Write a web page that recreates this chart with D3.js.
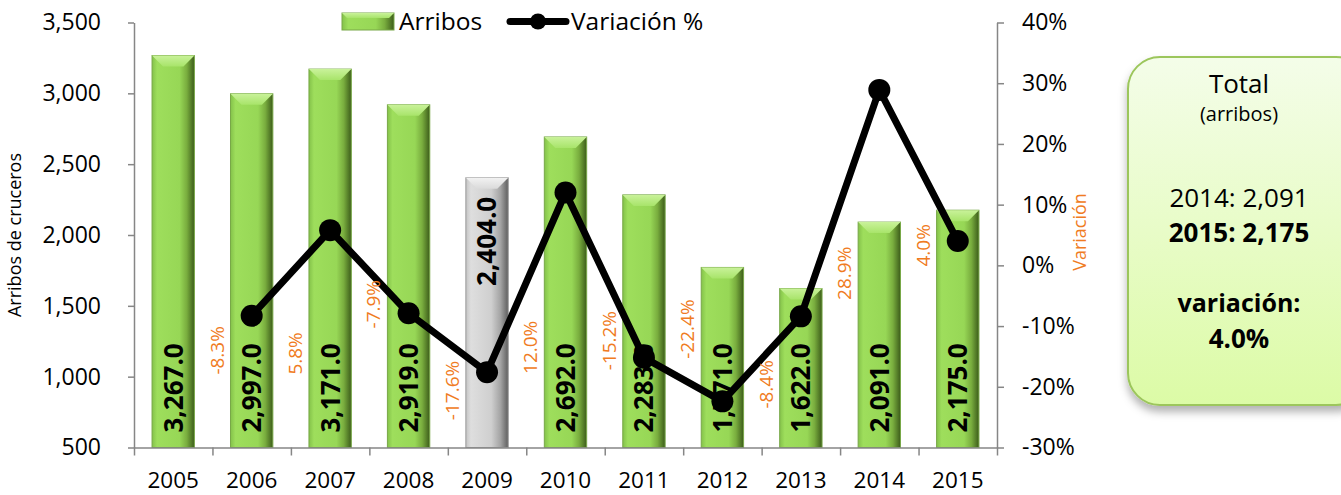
<!DOCTYPE html>
<html>
<head>
<meta charset="utf-8">
<script src="https://cdn.jsdelivr.net/npm/d3@7"></script>
<style>
  body { margin: 0; background: #fff; }
  text { font-family: "Open Sans", sans-serif; }
  .axis path, .axis line { stroke: #868686; stroke-width: 1.5; }
  .axis text { font-size: 23px; fill: #000; }
</style>
</head>
<body>
<div id="chart"></div>
<script>
// data
var years = ["2005","2006","2007","2008","2009","2010","2011","2012","2013","2014","2015"];
var arribos = [3267, 2997, 3171, 2919, 2404, 2692, 2283, 1771, 1622, 2091, 2175];
var variacion = [null, -8.3, 5.8, -7.9, -17.6, 12.0, -15.2, -22.4, -8.4, 28.9, 4.0];
// where the % labels sit, in right-axis units
var labelAt = [null, -14.0, -14.5, -6.4, -20.6, -13.5, -12.4, -10.5, -19.6, -1.3, 3.3];
var leftTicks = [500, 1000, 1500, 2000, 2500, 3000, 3500];
var rightTicks = [-30, -20, -10, 0, 10, 20, 30, 40];
var greyYear = "2009";

var width = 1341, height = 495;
var plot = { left: 134, right: 997, top: 22.5, bottom: 447.5 };

var svg = d3.select("#chart")
	.append("svg")
	.attr("width", width)
	.attr("height", height);

var defs = svg.append("defs");

function hGrad(id, stops) {
	var g = defs.append("linearGradient").attr("id", id)
		.attr("x1", "0").attr("x2", "1").attr("y1", "0").attr("y2", "0");
	stops.forEach(function(s){
		g.append("stop").attr("offset", s[0]).attr("stop-color", s[1]);
	});
}
function vGrad(id, stops) {
	var g = defs.append("linearGradient").attr("id", id)
		.attr("x1", "0").attr("x2", "0").attr("y1", "0").attr("y2", "1");
	stops.forEach(function(s){
		g.append("stop").attr("offset", s[0]).attr("stop-color", s[1]);
	});
}
hGrad("greenBar", [[0, "#84c24a"], [0.12, "#9ede5c"], [0.65, "#97d756"], [0.82, "#79ad3e"], [1, "#3c5c1a"]]);
hGrad("greyBar", [[0, "#c4c4c4"], [0.12, "#dedede"], [0.6, "#cfcfcf"], [0.82, "#a3a3a3"], [1, "#5e5e5e"]]);
vGrad("greenTop", [[0, "#c9f29a"], [1, "#a8e46a"]]);
vGrad("greyTop", [[0, "#f2f2f2"], [1, "#dadada"]]);
vGrad("boxFill", [[0, "#f4fde9"], [1, "#dcfba6"]]);

var shadow = defs.append("filter").attr("id", "shadow")
	.attr("x", "-20%").attr("y", "-20%").attr("width", "140%").attr("height", "140%");
shadow.append("feDropShadow").attr("dx", 0).attr("dy", 6).attr("stdDeviation", 4)
	.attr("flood-color", "#000").attr("flood-opacity", 0.3);

//scales
var x = d3.scaleBand()
	.domain(years)
	.range([plot.left, plot.right])
	.paddingInner(0.46)
	.paddingOuter(0.23);
var xEdge = d3.scaleLinear().domain([0, years.length]).range([plot.left, plot.right]);
var yLeft = d3.scaleLinear().domain([500, 3500]).range([plot.bottom, plot.top]);
var yRight = d3.scaleLinear().domain([-30, 40]).range([plot.bottom, plot.top]);

var bw = x.bandwidth();
function cx(d) { return x(d) + bw / 2; }
//excel style percent, plain hyphen for negatives
function pct(v) { return v.toFixed(1) + "%"; }

//bars with a bevelled top
var bars = svg.selectAll(".bar")
	.data(years)
	.enter().append("g")
	.attr("class", "bar");

bars.append("rect")
	.attr("x", function(d){ return x(d); })
	.attr("y", function(d, i){ return yLeft(arribos[i]); })
	.attr("width", bw)
	.attr("height", function(d, i){ return plot.bottom - yLeft(arribos[i]); })
	.attr("fill", function(d){ return d == greyYear ? "url(#greyBar)" : "url(#greenBar)"; })
	.attr("stroke", function(d){ return d == greyYear ? "#9a9a9a" : "#78a848"; })
	.attr("stroke-width", 1);

var bev = 11;
bars.append("path")
	.attr("d", function(d, i){
		var x0 = x(d), x1 = x(d) + bw, y0 = yLeft(arribos[i]);
		return "M" + x0 + "," + y0 + "L" + x1 + "," + y0 +
			"L" + (x1 - bev) + "," + (y0 + bev) + "L" + (x0 + bev) + "," + (y0 + bev) + "Z";
	})
	.attr("fill", function(d){ return d == greyYear ? "url(#greyTop)" : "url(#greenTop)"; });

//bar value labels
bars.append("text")
	.attr("transform", function(d, i){
		var yy = d == greyYear ? yLeft(arribos[i]) + 19 : plot.bottom - 15;
		return "translate(" + cx(d) + "," + yy + ") rotate(-90)";
	})
	.attr("text-anchor", function(d){ return d == greyYear ? "end" : "start"; })
	.attr("dy", "0.36em")
	.style("font-size", "26px")
	.style("font-weight", "bold")
	.text(function(d, i){ return d3.format(",.1f")(arribos[i]); });

//axes
svg.append("g")
	.attr("class", "axis")
	.attr("transform", "translate(" + plot.left + ",0)")
	.call(d3.axisLeft(yLeft).tickValues(leftTicks).tickFormat(d3.format(","))
		.tickSize(6).tickSizeOuter(0).tickPadding(27));

svg.append("g")
	.attr("class", "axis")
	.attr("transform", "translate(" + plot.right + ",0)")
	.call(d3.axisRight(yRight).tickValues(rightTicks).tickFormat(function(d){ return d + "%"; })
		.tickSize(7).tickSizeOuter(0).tickPadding(18));

svg.append("g")
	.attr("class", "axis")
	.attr("transform", "translate(0," + plot.bottom + ")")
	.call(d3.axisBottom(xEdge).ticks(years.length).tickFormat("").tickSize(8).tickSizeOuter(0));

svg.append("g")
	.attr("class", "axis")
	.attr("transform", "translate(0," + plot.bottom + ")")
	.call(d3.axisBottom(x).tickSize(0).tickPadding(25))
	.call(function(g){ g.select(".domain").remove(); })
	.selectAll("text").style("font-size", "22.5px");

//variation line
var pts = years.map(function(d, i){ return { year: d, v: variacion[i], at: labelAt[i] }; })
	.filter(function(p){ return p.v != null; });

var line = d3.line()
	.x(function(p){ return cx(p.year); })
	.y(function(p){ return yRight(p.v); });

svg.append("path")
	.datum(pts)
	.attr("d", line)
	.attr("fill", "none")
	.attr("stroke", "#000")
	.attr("stroke-width", 7)
	.attr("stroke-linejoin", "round");

svg.selectAll(".dot")
	.data(pts)
	.enter().append("circle")
	.attr("class", "dot")
	.attr("cx", function(p){ return cx(p.year); })
	.attr("cy", function(p){ return yRight(p.v); })
	.attr("r", 11)
	.attr("fill", "#000");

svg.selectAll(".varLabel")
	.data(pts)
	.enter().append("text")
	.attr("class", "varLabel")
	.attr("transform", function(p){
		return "translate(" + (cx(p.year) - 35) + "," + yRight(p.at) + ") rotate(-90)";
	})
	.attr("text-anchor", "middle")
	.attr("dy", "0.36em")
	.style("font-size", "19px")
	.style("fill", "#f07b22")
	.text(function(p){ return pct(p.v); });

//axis titles
svg.append("text")
	.attr("transform", "translate(15,235) rotate(-90)")
	.attr("text-anchor", "middle")
	.attr("dy", "0.36em")
	.style("font-size", "18px")
	.text("Arribos de cruceros");

svg.append("text")
	.attr("transform", "translate(1080,232) rotate(-90)")
	.attr("text-anchor", "middle")
	.attr("dy", "0.36em")
	.style("font-size", "18px")
	.style("fill", "#f07b22")
	.text("Variación");

//legend
var legend = svg.append("g").attr("class", "legend");
legend.append("rect")
	.attr("x", 342).attr("y", 13).attr("width", 52).attr("height", 17)
	.attr("fill", "url(#greenBar)").attr("stroke", "#78a848");
legend.append("path")
	.attr("d", "M342,13L394,13L389,18L347,18Z")
	.attr("fill", "url(#greenTop)");
legend.append("text")
	.attr("x", 399).attr("y", 30)
	.style("font-size", "24.5px")
	.text("Arribos");
legend.append("line")
	.attr("x1", 510).attr("x2", 566).attr("y1", 21.5).attr("y2", 21.5)
	.attr("stroke", "#000").attr("stroke-width", 7).attr("stroke-linecap", "round");
legend.append("circle")
	.attr("cx", 538).attr("cy", 21.5).attr("r", 8).attr("fill", "#000");
legend.append("text")
	.attr("x", 571).attr("y", 30)
	.style("font-size", "24.5px")
	.text("Variación %");

//summary box
var box = svg.append("g").attr("class", "box");
box.append("rect")
	.attr("x", 1128).attr("y", 57).attr("width", 240).attr("height", 348)
	.attr("rx", 32).attr("ry", 32)
	.attr("fill", "url(#boxFill)")
	.attr("stroke", "#9cc65c").attr("stroke-width", 2)
	.attr("filter", "url(#shadow)");

var boxText = [
	{ t: "Total", y: 93, size: 26, bold: false },
	{ t: "(arribos)", y: 121, size: 20, bold: false },
	{ t: "2014: 2,091", y: 207, size: 26, bold: false },
	{ t: "2015: 2,175", y: 242, size: 26, bold: true },
	{ t: "variación:", y: 312, size: 25, bold: true },
	{ t: "4.0%", y: 348, size: 26, bold: true }
];
box.selectAll("text")
	.data(boxText)
	.enter().append("text")
	.attr("x", 1239)
	.attr("y", function(d){ return d.y; })
	.attr("text-anchor", "middle")
	.style("font-size", function(d){ return d.size + "px"; })
	.style("font-weight", function(d){ return d.bold ? "bold" : "normal"; })
	.text(function(d){ return d.t; });
</script>
</body>
</html>
